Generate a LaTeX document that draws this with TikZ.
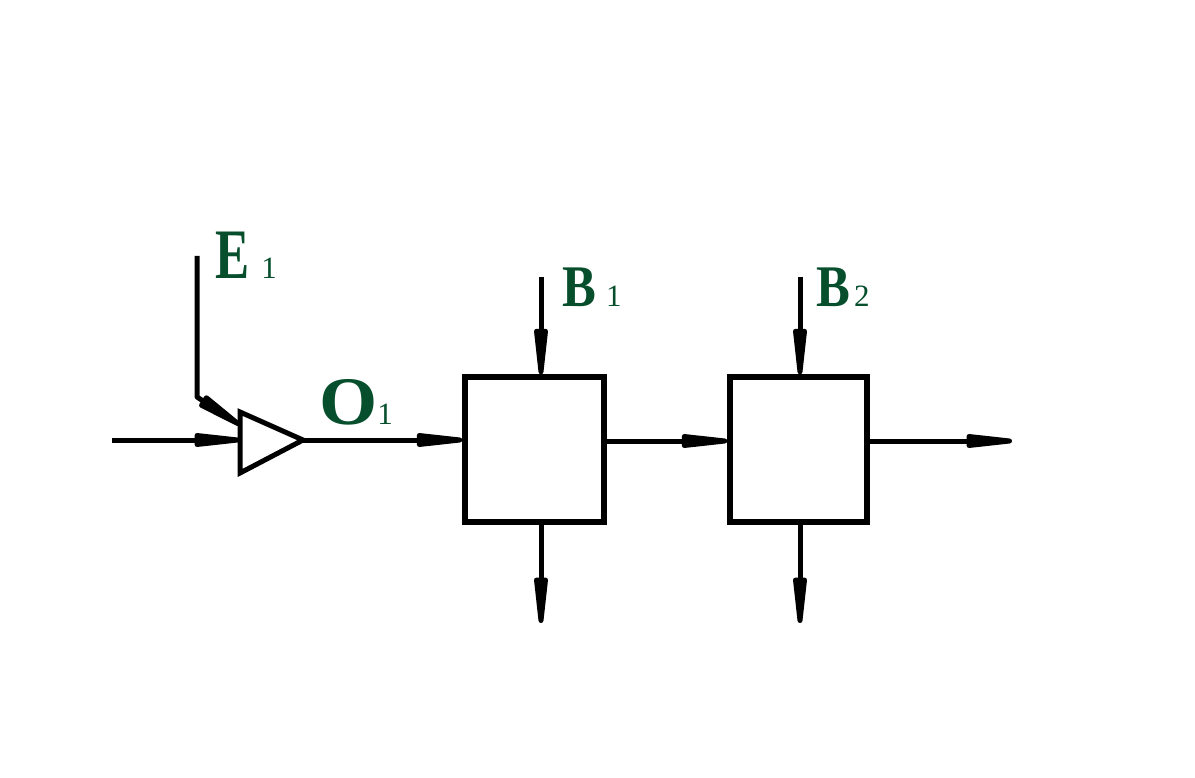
\documentclass[tikz,border=0pt]{standalone}
\usepackage{fontspec}
\usepackage{graphicx}
\setmainfont{Liberation Serif}
\usetikzlibrary{arrows.meta}
\definecolor{labgreen}{RGB}{6,78,44}
% letter, then its index: x-stretch, size, letter, gap, index
\newcommand{\lbl}[5]{\scalebox{#1}[1]{\fontsize{#2}{#2}\selectfont\bfseries #3}\kern#4pt{\fontsize{31}{31}\selectfont #5}}
\tikzset{
  wire/.style={line width=5pt},
  arr/.style={wire, -{Triangle[length=70pt,width=13pt,round]}},
  blk/.style={draw, line width=5.5pt, minimum width=139pt, minimum height=145pt, inner sep=0pt},
  tag/.style={text=labgreen, anchor=base west, inner sep=0pt},
}
\begin{document}
\begin{tikzpicture}[x=1pt,y=-1pt]
\useasboundingbox (0,0) rectangle (1195,778);
% the two blocks
\node[blk] (box1) at (534.5,449.5) {};
\node[blk, minimum width=137pt] (box2) at (798.5,449.5) {};

% amplifier
\coordinate (ampA) at (240,412);
\coordinate (ampB) at (303,440);
\coordinate (ampC) at (240,473);
\draw[wire, line join=miter] (ampA) -- (ampB) -- (ampC) -- cycle;

\coordinate (in) at (112,440);
\coordinate (ampIn) at (240,440);
\coordinate (eTop) at (197,256);
\coordinate (eBend) at (197,397);
\coordinate (ampE) at (240,425);
\draw[arr] (in) -- (ampIn);
\draw[arr, line join=round] (eTop) -- (eBend) -- (ampE);
\draw[arr] (ampB) -- (ampB -| box1.west);

% feeds and drains of the blocks
\coordinate (b1top) at (541,277);
\coordinate (b1bot) at (541,623);
\coordinate (b2top) at (800,277);
\coordinate (b2bot) at (800,623);
\draw[arr] (b1top) -- (b1top |- box1.north);
\draw[arr] (b1top |- box1.south) -- (b1bot);
\draw[arr] (b2top) -- (b2top |- box2.north);
\draw[arr] (b2top |- box2.south) -- (b2bot);

\coordinate (out) at (1012,441);
\draw[arr] (box1.east |- out) -- (box2.west |- out);
\draw[arr] (box2.east |- out) -- (out);

% labels
\node[tag] (lE) at (215,279) {\lbl{0.72}{71}{E}{12}{1}};
\node[tag] (lO) at (319,424) {\lbl{1.1}{68}{O}{0}{1}};
\node[tag] (lB1) at (562,307) {\lbl{0.86}{59}{B}{10}{1}};
\node[tag] (lB2) at (816,307) {\lbl{0.86}{59}{B}{4}{2}};
\end{tikzpicture}
\end{document}
